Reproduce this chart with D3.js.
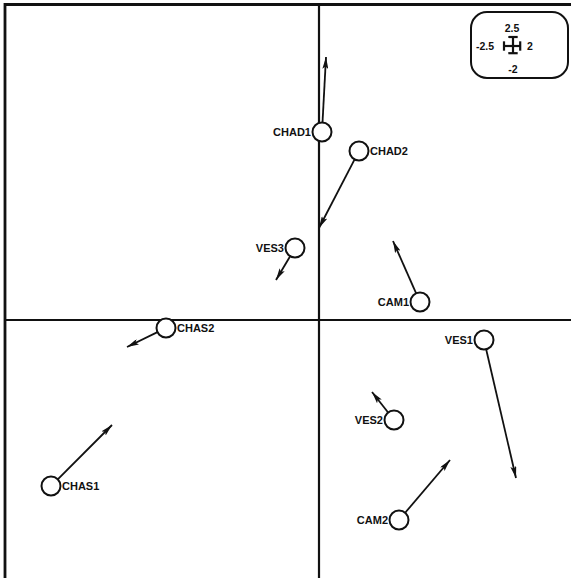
<!DOCTYPE html>
<html>
<head>
<meta charset="utf-8">
<script src="https://cdn.jsdelivr.net/npm/d3@7"></script>
<style>
  body { margin: 0; background: #fff; }
  svg { display: block; }
  text { font-family: "Liberation Sans", Arial, sans-serif; font-weight: bold; fill: #111; }
</style>
</head>
<body>
<svg></svg>
<script>
var width = 571,
    height = 578

// sample names, score positions and arrow tips (same units)
var names = ["CHAD1", "CHAD2", "VES3", "CAM1", "CHAS2", "VES1", "VES2", "CHAS1", "CAM2"]
var xs = [0.03, 0.40, -0.24, 1.01, -1.53, 1.65, 0.75, -2.68, 0.80]
var ys = [1.88, 1.69, 0.72, 0.18, -0.08, -0.20, -1.00, -1.66, -2.00]
var tipX = [0.07, 0.00, -0.43, 0.74, -1.92, 1.97, 0.53, -2.07, 1.31]
var tipY = [2.63, 0.92, 0.40, 0.79, -0.27, -1.58, -0.72, -1.05, -1.40]
var labelSide = ["left", "right", "left", "left", "right", "left", "left", "right", "left"]

// legend scale values
var legUp = 2.5, legDown = -2, legLeft = -2.5, legRight = 2

var data = names.map(function(n, i) {
    return { name: n, x: xs[i], y: ys[i], tx: tipX[i], ty: tipY[i], side: labelSide[i] }
})

var svg = d3.select("svg").attr("width", width).attr("height", height)

var xScale = d3.scaleLinear().domain([-3.14, 2.52]).range([5, 571])
var yScale = d3.scaleLinear().domain([3.15, -2.58]).range([5, 578])

svg.append("defs").append("marker")
    .attr("id", "head")
    .attr("viewBox", "0 0 12 6")
    .attr("refX", 12).attr("refY", 3)
    .attr("markerWidth", 12).attr("markerHeight", 6)
    .attr("markerUnits", "userSpaceOnUse")
    .attr("orient", "auto")
    .append("path")
    .attr("d", "M0,0 L12,3 L0,6 L2.5,3 Z")
    .attr("fill", "#111")

// frame (open at right and bottom, cropped)
svg.append("path")
    .attr("d", "M5," + height + " V4.5 H" + width)
    .attr("fill", "none").attr("stroke", "#111").attr("stroke-width", 2.8)

// axes through origin
svg.append("line")
    .attr("x1", 5).attr("x2", width)
    .attr("y1", yScale(0)).attr("y2", yScale(0))
    .attr("stroke", "#111").attr("stroke-width", 2.2)
svg.append("line")
    .attr("x1", xScale(0)).attr("x2", xScale(0))
    .attr("y1", 5).attr("y2", height)
    .attr("stroke", "#111").attr("stroke-width", 2.2)

var r = 9.5

var g = svg.selectAll("g.pt").data(data).enter().append("g").attr("class", "pt")

g.append("line")
    .attr("x1", function(d) {
        var dx = xScale(d.tx) - xScale(d.x), dy = yScale(d.ty) - yScale(d.y)
        return xScale(d.x) + r * dx / Math.hypot(dx, dy)
    })
    .attr("y1", function(d) {
        var dx = xScale(d.tx) - xScale(d.x), dy = yScale(d.ty) - yScale(d.y)
        return yScale(d.y) + r * dy / Math.hypot(dx, dy)
    })
    .attr("x2", function(d) { return xScale(d.tx) })
    .attr("y2", function(d) { return yScale(d.ty) })
    .attr("stroke", "#111").attr("stroke-width", 1.8)
    .attr("marker-end", "url(#head)")

g.append("circle")
    .attr("cx", function(d) { return xScale(d.x) })
    .attr("cy", function(d) { return yScale(d.y) })
    .attr("r", r)
    .attr("fill", "#fff").attr("stroke", "#111").attr("stroke-width", 2)

g.append("text")
    .attr("x", function(d) { return xScale(d.x) + (d.side == "left" ? -11 : 11) })
    .attr("y", function(d) { return yScale(d.y) + 4 })
    .attr("text-anchor", function(d) { return d.side == "left" ? "end" : "start" })
    .style("font-size", "11px")
    .text(function(d) { return d.name })

// legend
var leg = svg.append("g")
leg.append("rect")
    .attr("x", 471).attr("y", 12).attr("width", 97).attr("height", 66)
    .attr("rx", 16).attr("ry", 16)
    .attr("fill", "#fff").attr("stroke", "#111").attr("stroke-width", 2)

var cx = 513, cy = 46, u = 3.6
var lx = d3.scaleLinear().domain([0, 1]).range([cx, cx + u])
var ly = d3.scaleLinear().domain([0, 1]).range([cy, cy - u])
var seg = [
    [lx(0), ly(legUp), lx(0), ly(legDown)],
    [lx(legLeft), ly(0), lx(legRight), ly(0)],
    [lx(-1.3), ly(legUp), lx(1.3), ly(legUp)],
    [lx(-1.3), ly(legDown), lx(1.3), ly(legDown)],
    [lx(legLeft), ly(1.3), lx(legLeft), ly(-1.3)],
    [lx(legRight), ly(1.3), lx(legRight), ly(-1.3)]
]
leg.selectAll("line.s").data(seg).enter().append("line")
    .attr("x1", function(d) { return d[0] }).attr("y1", function(d) { return d[1] })
    .attr("x2", function(d) { return d[2] }).attr("y2", function(d) { return d[3] })
    .attr("stroke", "#111").attr("stroke-width", 2.2)

var legTexts = [
    { t: legUp, x: cx - 1, y: 32, a: "middle" },
    { t: legDown, x: cx, y: 73, a: "middle" },
    { t: legLeft, x: 494, y: cy + 4, a: "end" },
    { t: legRight, x: 527, y: cy + 4, a: "start" }
]
leg.selectAll("text").data(legTexts).enter().append("text")
    .attr("x", function(d) { return d.x }).attr("y", function(d) { return d.y })
    .attr("text-anchor", function(d) { return d.a })
    .style("font-size", "10.5px")
    .text(function(d) { return d.t })
</script>
</body>
</html>
